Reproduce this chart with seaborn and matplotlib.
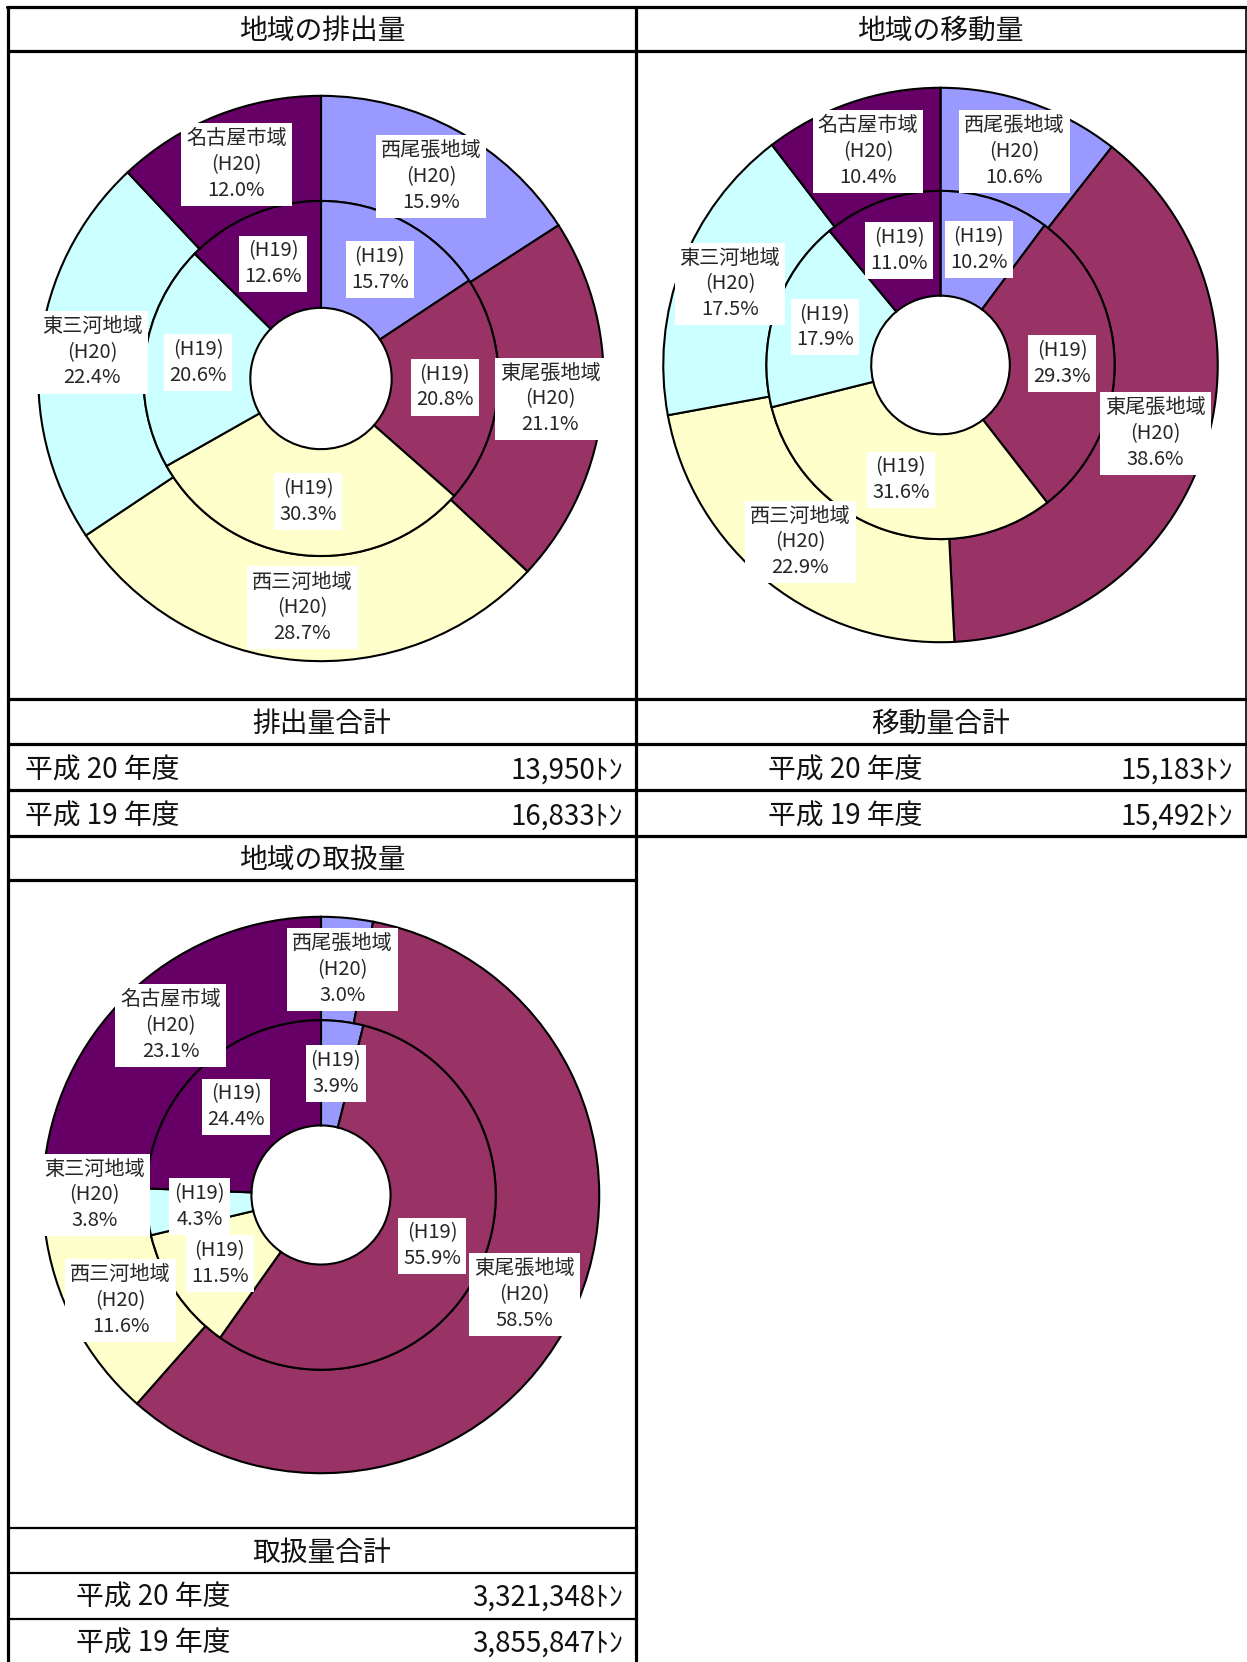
import numpy as np
import matplotlib
matplotlib.use("Agg")
import matplotlib.pyplot as plt
import seaborn as sns

# ---------------- data ----------------
regions = ["西尾張地域", "東尾張地域", "西三河地域", "東三河地域", "名古屋市域"]
region_colors = ["#9999FF", "#993366", "#FFFFCC", "#CCFFFF", "#660066"]

emit_h20 = [15.9, 21.1, 28.7, 22.4, 12.0]
emit_h19 = [15.7, 20.8, 30.3, 20.6, 12.6]
move_h20 = [10.6, 38.6, 22.9, 17.5, 10.4]
move_h19 = [10.2, 29.3, 31.6, 17.9, 11.0]
hand_h20 = [3.0, 58.5, 11.6, 3.8, 23.1]
hand_h19 = [3.9, 55.9, 11.5, 4.3, 24.4]

titles = ["地域の排出量", "地域の移動量", "地域の取扱量"]
total_titles = ["排出量合計", "移動量合計", "取扱量合計"]
year_labels = ["平成 20 年度", "平成 19 年度"]
emit_totals = ["13,950ﾄﾝ", "16,833ﾄﾝ"]
move_totals = ["15,183ﾄﾝ", "15,492ﾄﾝ"]
hand_totals = ["3,321,348ﾄﾝ", "3,855,847ﾄﾝ"]

# ---------------- style ----------------
sns.set_theme(style="white")
FONT = ["Noto Sans CJK JP", "DejaVu Sans"]
plt.rcParams["font.family"] = FONT
palette = sns.color_palette(region_colors)

W, H = 1247, 1662
fig = plt.figure(figsize=(W / 100, H / 100), dpi=100)
fig.patch.set_facecolor("white")

bg = fig.add_axes([0, 0, 1, 1])
bg.set_xlim(0, W)
bg.set_ylim(H, 0)
bg.axis("off")

# ---------------- table frame ----------------
L, M, R = 8, 636, 1245.5
thick = 2.3
thin = 1.6
bg.plot([L - 1, R], [6.5, 6.5], color="black", lw=thick)
bg.plot([L, L], [6.5, H], color="black", lw=thick)
bg.plot([M, M], [6.5, H], color="black", lw=thick)
bg.plot([R, R], [6.5, 835.7], color="black", lw=1.2)
for y in [51, 699, 744, 790, 835.7]:
    bg.plot([L, R], [y, y], color="black", lw=thick)
bg.plot([L, M], [880, 880], color="black", lw=thick)
for y in [1528, 1573, 1619]:
    bg.plot([L, M], [y, y], color="black", lw=thin)

TFS = 20
tkw = dict(va="center", fontsize=TFS, color="#111111")
# titles
bg.text((L + M) / 2, 31, titles[0], ha="center", **tkw)
bg.text((M + R) / 2, 31, titles[1], ha="center", **tkw)
bg.text((L + M) / 2, 860, titles[2], ha="center", **tkw)
bg.text((L + M) / 2, 724, total_titles[0], ha="center", **tkw)
bg.text((M + R) / 2, 724, total_titles[1], ha="center", **tkw)
bg.text((L + M) / 2, 1553, total_titles[2], ha="center", **tkw)

row_y_top = [771, 817]
for i in range(2):
    bg.text(25, row_y_top[i], year_labels[i], ha="left", **tkw)
    bg.text(623, row_y_top[i], emit_totals[i], ha="right", **tkw)
    bg.text(768, row_y_top[i], year_labels[i], ha="left", **tkw)
    bg.text(1233, row_y_top[i], move_totals[i], ha="right", **tkw)
row_y_bot = [1598, 1644]
for i in range(2):
    bg.text(76, row_y_bot[i], year_labels[i], ha="left", **tkw)
    bg.text(623, row_y_bot[i], hand_totals[i], ha="right", **tkw)

# ---------------- donut charts ----------------
R_MID = 0.628
R_HOLE = 0.25
LFS = 14.5


def donut(cx, cy, rad, outer, inner):
    ax = fig.add_axes([(cx - rad) / W, 1 - (cy + rad) / H, 2 * rad / W, 2 * rad / H])
    ax.set_aspect("equal")
    ax.axis("off")
    wp = dict(edgecolor="black", linewidth=1.5)
    w_out, _ = ax.pie(outer, radius=1.0, colors=palette, startangle=90,
                      counterclock=False,
                      wedgeprops=dict(width=1.0 - R_MID, **wp))
    w_in, _ = ax.pie(inner, radius=R_MID, colors=palette, startangle=90,
                     counterclock=False,
                     wedgeprops=dict(width=R_MID - R_HOLE, **wp))
    ax.set_xlim(-1.01, 1.01)
    ax.set_ylim(-1.01, 1.01)
    box = dict(facecolor="white", edgecolor="none", boxstyle="square,pad=0.25")
    for w, name, v in zip(w_out, regions, outer):
        th = np.deg2rad((w.theta1 + w.theta2) / 2)
        r = w.r - w.width / 2
        ax.text(r * np.cos(th), r * np.sin(th), f"{name}\n(H20)\n{v:.1f}%",
                ha="center", va="center", fontsize=LFS, linespacing=1.3,
                bbox=box, zorder=10)
    for w, v in zip(w_in, inner):
        th = np.deg2rad((w.theta1 + w.theta2) / 2)
        r = w.r - w.width / 2
        ax.text(r * np.cos(th), r * np.sin(th), f"(H19)\n{v:.1f}%",
                ha="center", va="center", fontsize=LFS, linespacing=1.3,
                bbox=box, zorder=10)


donut(321, 378.5, 285.5, emit_h20, emit_h19)
donut(940.5, 365, 280, move_h20, move_h19)
donut(321, 1195, 281, hand_h20, hand_h19)

fig.savefig("out.png", dpi=100, facecolor="white")
